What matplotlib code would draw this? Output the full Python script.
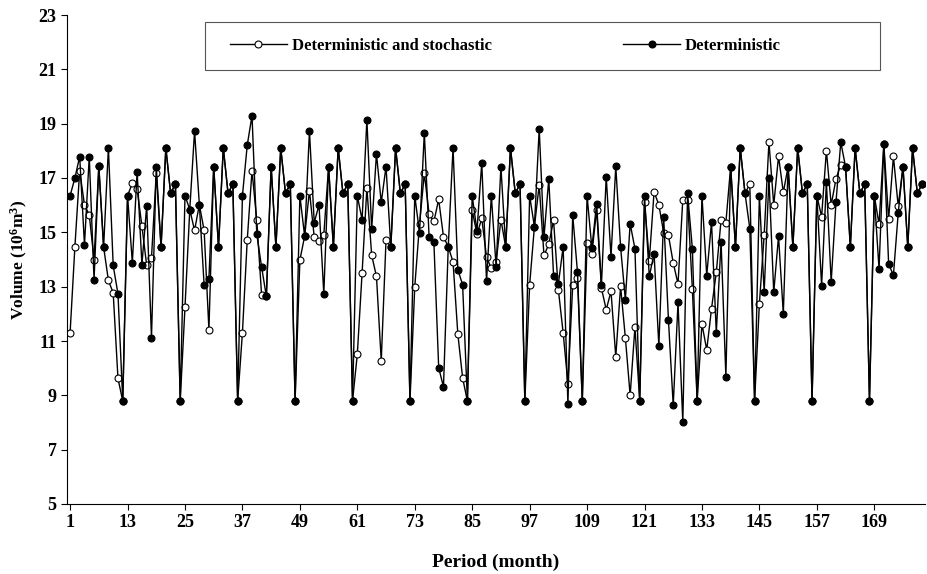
import numpy as np
import matplotlib
matplotlib.use("Agg")
from matplotlib import pyplot as plt
from matplotlib.patches import Rectangle

# Fonts - bold serif, Times-like
plt.rcParams['font.family'] = ['Liberation Serif', 'DejaVu Serif']
plt.rcParams['font.weight'] = 'bold'
plt.rcParams['mathtext.fontset'] = 'custom'
plt.rcParams['mathtext.rm'] = 'Liberation Serif:bold'
plt.rcParams['mathtext.default'] = 'rm'

# Deterministic and stochastic (white markers)
stochastic = [
    11.31, 14.47, 17.27, 16.01, 15.64, 14.00, 17.43, 14.46, 13.23, 12.77, 9.62, 8.79,
    16.35, 16.81, 16.59, 15.23, 13.78, 14.06, 17.19, 14.46, 18.11, 16.43, 16.78, 8.79,
    12.25, 15.84, 15.07, 16.02, 15.07, 11.41, 17.42, 14.46, 18.11, 16.43, 16.78, 8.79,
    11.31, 14.70, 17.27, 15.44, 12.70, 12.64, 17.42, 14.46, 18.11, 16.43, 16.78, 8.79,
    13.98, 14.86, 16.53, 14.83, 14.68, 14.90, 17.42, 14.46, 18.11, 16.43, 16.78, 8.79,
    10.51, 13.51, 16.63, 14.16, 13.38, 10.27, 14.72, 14.46, 18.11, 16.43, 16.78, 8.79,
    12.99, 15.30, 17.17, 15.67, 15.40, 16.21, 14.84, 14.47, 13.91, 11.26, 9.64, 8.79,
    15.81, 14.93, 15.51, 14.09, 13.67, 13.90, 15.47, 14.46, 18.11, 16.43, 16.78, 8.79,
    13.06, 15.21, 16.74, 14.15, 14.56, 15.44, 12.89, 11.31, 9.43, 13.05, 13.32, 8.79,
    14.62, 14.21, 15.83, 12.95, 12.15, 12.83, 10.42, 13.01, 11.12, 9.00, 11.51, 8.79,
    16.10, 13.96, 16.49, 16.01, 14.99, 14.89, 13.88, 13.10, 16.20, 16.20, 12.91, 8.79,
    11.63, 10.67, 12.19, 13.53, 15.46, 15.36, 17.42, 14.46, 18.11, 16.43, 16.78, 8.79,
    12.37, 14.90, 18.32, 16.01, 17.80, 16.47, 17.42, 14.46, 18.11, 16.43, 16.78, 8.79,
    16.35, 15.58, 18.01, 16.01, 16.96, 17.49, 17.42, 14.46, 18.11, 16.43, 16.78, 8.79,
    16.35, 15.30, 18.25, 15.48, 17.80, 15.96, 17.42, 14.46, 18.11, 16.43, 16.78,
]

# Deterministic (black markers)
deterministic = [
    16.35, 17.00, 17.79, 14.54, 17.79, 13.26, 17.43, 14.46, 18.11, 13.78, 12.73, 8.79,
    16.35, 13.88, 17.23, 13.81, 15.98, 11.12, 17.42, 14.46, 18.11, 16.43, 16.78, 8.79,
    16.35, 15.84, 18.73, 16.02, 13.05, 13.30, 17.42, 14.46, 18.11, 16.43, 16.78, 8.79,
    16.35, 18.20, 19.30, 14.93, 13.73, 12.64, 17.42, 14.46, 18.11, 16.43, 16.78, 8.79,
    16.35, 14.86, 18.73, 15.36, 16.01, 12.73, 17.42, 14.46, 18.11, 16.43, 16.78, 8.79,
    16.35, 15.46, 19.15, 15.11, 17.89, 16.10, 17.42, 14.46, 18.11, 16.43, 16.78, 8.79,
    16.35, 14.99, 18.67, 14.83, 14.63, 10.02, 9.31, 14.47, 18.11, 13.63, 13.07, 8.79,
    16.35, 15.05, 17.56, 13.20, 16.35, 13.73, 17.42, 14.46, 18.11, 16.43, 16.78, 8.79,
    16.35, 15.21, 18.81, 14.83, 16.96, 13.41, 13.10, 14.46, 8.67, 15.64, 13.53, 8.79,
    16.35, 14.43, 16.06, 13.05, 17.05, 14.10, 17.43, 14.46, 12.52, 15.32, 14.40, 8.79,
    16.35, 13.38, 14.22, 10.81, 15.57, 11.78, 8.63, 12.42, 8.01, 16.43, 14.40, 8.79,
    16.35, 13.41, 15.38, 11.31, 14.65, 9.68, 17.42, 14.46, 18.11, 16.43, 15.14, 8.79,
    16.35, 12.79, 16.99, 12.79, 14.86, 12.00, 17.42, 14.46, 18.11, 16.43, 16.78, 8.79,
    16.35, 13.04, 16.84, 13.17, 16.10, 18.32, 17.42, 14.46, 18.11, 16.43, 16.78, 8.79,
    16.35, 13.65, 18.25, 13.84, 13.42, 15.70, 17.42, 14.46, 18.11, 16.43, 16.78,
]

months = np.arange(1, len(deterministic) + 1)
xtick_labels = list(range(1, 170, 12))
yticks = list(range(5, 24, 2))

fig = plt.figure(figsize=(9.27, 5.74), dpi=100)
ax = fig.add_axes([67 / 927, 1 - 504 / 574, 858 / 927, 489 / 574])

#Plot stochastic first so black markers sit on top
l1, = ax.plot(months, stochastic, color='black', lw=1.0, marker='o', ms=5,
              mfc='white', mec='black', mew=0.8, label='Deterministic and stochastic')
l2, = ax.plot(months, deterministic, color='black', lw=1.0, marker='o', ms=5,
              mfc='black', mec='black', mew=0.8, label='Deterministic')

ax.set_xlim(0.35, 179.6)
ax.set_ylim(5, 23)
ax.set_xticks(xtick_labels)
ax.set_yticks(yticks)
ax.tick_params(axis='both', labelsize=13, direction='out', length=4, width=0.8)
ax.spines['top'].set_visible(False)
ax.spines['right'].set_visible(False)

ax.set_xlabel('Period (month)', fontsize=14, fontweight='bold', labelpad=16)
ax.set_ylabel('Volume (10$^6$m$^3$)', fontsize=12.5, fontweight='bold', labelpad=6)

#Legend box drawn by hand
ax.add_patch(Rectangle((0.161, 0.888), 0.787, 0.098, transform=ax.transAxes,
                       fill=False, edgecolor='#555555', lw=0.8, zorder=5))
leg = ax.legend(handles=[l1, l2], loc='center left', bbox_to_anchor=(0.190, 0.937),
                ncol=2, frameon=False, fontsize=12, handlelength=3.4,
                handletextpad=0.3, columnspacing=7.9, borderpad=0, borderaxespad=0)

fig.savefig('out.png', dpi=100)
